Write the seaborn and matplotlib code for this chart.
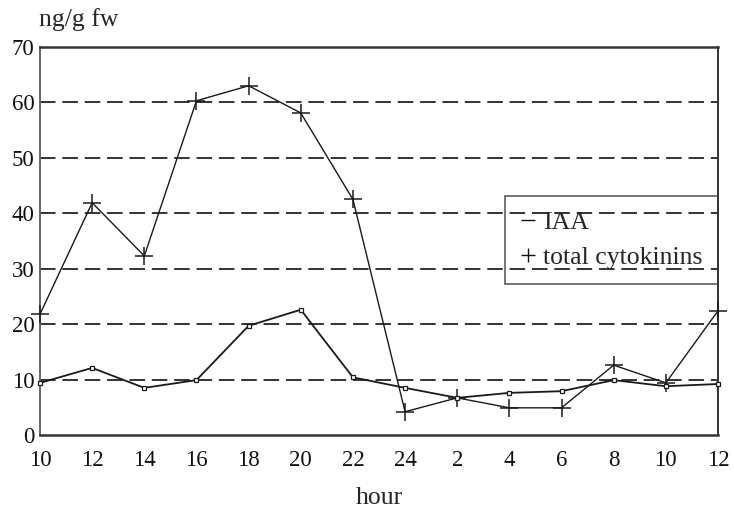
import numpy as np
import pandas as pd
import matplotlib
matplotlib.use('Agg')
import matplotlib.pyplot as plt
from matplotlib.lines import Line2D
import seaborn as sns

# Values
hours = ['10', '12', '14', '16', '18', '20', '22', '24', '2', '4', '6', '8', '10', '12']
iaa = [9.4, 12.1, 8.5, 9.9, 19.7, 22.6, 10.4, 8.5, 6.7, 7.6, 7.9, 9.9, 8.8, 9.2]
cytokinins = [21.8, 41.9, 32.3, 60.3, 63.0, 58.1, 42.5, 4.2, 6.7, 4.9, 4.9, 12.6, 9.4, 22.4]
y_ticks = [0, 10, 20, 30, 40, 50, 60, 70]

df = pd.DataFrame({'pos': np.arange(len(hours)), 'IAA': iaa, 'cyt': cytokinins})

sns.set_style('white')
plt.rcParams['font.family'] = ['Liberation Serif', 'DejaVu Serif']

fig = plt.figure(figsize=(7.34, 5.09), dpi=100)
ax = fig.add_axes([0.0545, 0.1454, 0.9237, 0.7623])

# dashed horizontal grid lines
for v in y_ticks[1:-1]:
    ax.axhline(v, color='#333333', lw=1.4, ls=(0, (8, 3.5)), zorder=1)

ink = '#1a1a1a'
sns.lineplot(data=df, x='pos', y='cyt', ax=ax, color=ink, lw=1.0,
             marker='+', markersize=13, markeredgewidth=1.1,
             markeredgecolor=ink, sort=False, clip_on=False, zorder=3)
sns.lineplot(data=df, x='pos', y='IAA', ax=ax, color=ink, lw=1.3,
             marker='s', markersize=3.5, markerfacecolor='white',
             markeredgecolor=ink, markeredgewidth=0.9, sort=False,
             clip_on=False, zorder=3)

ax.set_xlim(0, len(hours) - 1)
ax.set_ylim(0, 70)
ax.set_xticks(df['pos'])
ax.set_xticklabels(hours)
ax.set_yticks(y_ticks)
ax.tick_params(axis='both', length=0, labelsize=16.5, colors='#111111')
ax.tick_params(axis='x', pad=11)
ax.tick_params(axis='y', pad=4)

for side, sp in ax.spines.items():
    sp.set_visible(True)
    sp.set_color('#333333')
    sp.set_linewidth(1.4)
ax.spines['left'].set_color('#666666')
ax.spines['top'].set_linewidth(1.8)
ax.spines['bottom'].set_linewidth(1.8)

ax.set_xlabel('hour', fontsize=18.5, labelpad=11)
ax.set_ylabel('')
fig.text(0.053, 0.962, 'ng/g fw', fontsize=18.5, ha='left', va='center')

handles = [Line2D([], [], ls='none', marker='_', markersize=10, color='#111111', markeredgewidth=1.0),
           Line2D([], [], ls='none', marker='+', markersize=10, color='#111111', markeredgewidth=1.0)]
leg = ax.legend(handles, ['IAA', 'total cytokinins'], loc='upper right',
                bbox_to_anchor=(1.0, 0.616), fontsize=18.5, frameon=True,
                fancybox=False, handlelength=0.6, handletextpad=0.3,
                borderpad=0.6, labelspacing=0.45, borderaxespad=0)
leg.get_frame().set_edgecolor('#333333')
leg.get_frame().set_linewidth(1.2)
leg.get_frame().set_facecolor('none')

fig.savefig('out.png', dpi=100)
